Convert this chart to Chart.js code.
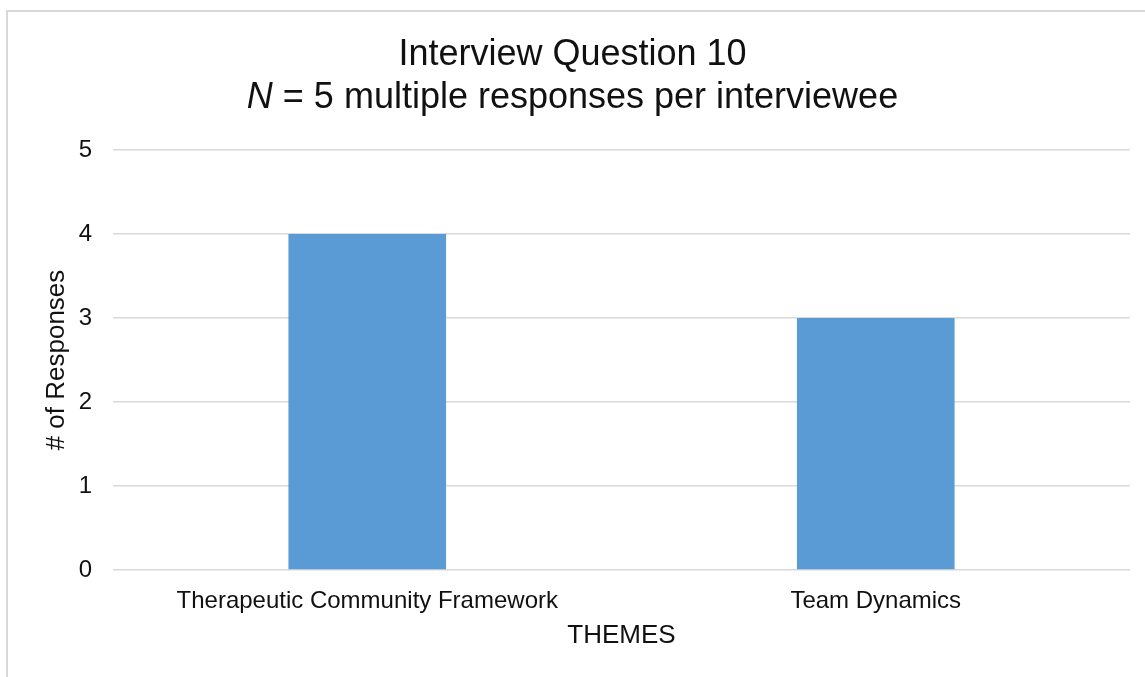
<!DOCTYPE html>
<html>
<head>
<meta charset="utf-8">
<script src="https://cdn.jsdelivr.net/npm/chart.js@4"></script>
<style>
  html, body { margin: 0; padding: 0; background: #fff; }
  #wrap { width: 1145px; height: 677px; position: relative; }
</style>
</head>
<body>
<div id="wrap"><canvas id="c" width="1145" height="677"></canvas></div>
<script>
// Interview question 10 themes and response counts
const categories = ['Therapeutic Community Framework', 'Team Dynamics'];
const responses = [4, 3];
const yTicks = [0, 1, 2, 3, 4, 5];
const titleLine1 = 'Interview Question 10';
const titleLine2Italic = 'N';
const titleLine2Rest = ' = 5 multiple responses per interviewee';
const xTitle = 'THEMES';
const yTitle = '# of Responses';

const FONT = '"Liberation Sans", Arial, sans-serif';
const GRID = '#d9d9d9';

// Frame around the chart and the two-line title with an italic N
const framePlugin = {
  id: 'frameAndTitle',
  beforeDraw(chart) {
    const ctx = chart.ctx;
    ctx.save();
    ctx.fillStyle = '#fff';
    ctx.fillRect(0, 0, chart.width, chart.height);
    ctx.strokeStyle = GRID;
    ctx.lineWidth = 2;
    ctx.strokeRect(7, 11, chart.width + 50, chart.height + 50);
    ctx.restore();
  },
  afterDraw(chart) {
    const ctx = chart.ctx;
    const cx = chart.width / 2;
    ctx.save();
    ctx.fillStyle = '#111';
    ctx.textBaseline = 'alphabetic';
    ctx.font = '36px ' + FONT;
    ctx.textAlign = 'center';
    ctx.fillText(titleLine1, cx, 65);

    const italicFont = 'italic 36px ' + FONT;
    const normalFont = '36px ' + FONT;
    ctx.font = italicFont;
    const wN = ctx.measureText(titleLine2Italic).width;
    ctx.font = normalFont;
    const wR = ctx.measureText(titleLine2Rest).width;
    const start = cx - (wN + wR) / 2;
    ctx.textAlign = 'left';
    ctx.font = italicFont;
    ctx.fillText(titleLine2Italic, start, 108);
    ctx.font = normalFont;
    ctx.fillText(titleLine2Rest, start + wN, 108);
    ctx.restore();
  }
};

new Chart(document.getElementById('c'), {
  type: 'bar',
  data: {
    labels: categories,
    datasets: [{
      data: responses,
      backgroundColor: '#5b9bd5',
      borderWidth: 0,
      categoryPercentage: 1,
      barPercentage: 0.31
    }]
  },
  options: {
    responsive: false,
    animation: false,
    devicePixelRatio: 1,
    layout: { padding: { top: 150, right: 15, left: 0, bottom: 0 } },
    plugins: {
      legend: { display: false },
      title: { display: false },
      tooltip: { enabled: false }
    },
    scales: {
      x: {
        grid: { display: false, drawTicks: false },
        border: { display: false },
        ticks: {
          color: '#111',
          font: { family: FONT, size: 24 },
          padding: 17,
          maxRotation: 0
        },
        title: {
          display: true,
          text: xTitle,
          color: '#111',
          font: { family: FONT, size: 26 },
          padding: { top: 0, bottom: 26 }
        },
        afterFit(scale) { scale.height = 107; }
      },
      y: {
        min: 0,
        max: 5,
        afterBuildTicks(scale) { scale.ticks = yTicks.map(v => ({ value: v })); },
        grid: { color: GRID, lineWidth: 1.5, drawTicks: false },
        border: { display: false },
        ticks: {
          color: '#111',
          font: { family: FONT, size: 24 },
          padding: 21
        },
        title: {
          display: true,
          text: yTitle,
          color: '#111',
          font: { family: FONT, size: 26 },
          padding: { top: 41, bottom: 0 }
        },
        afterFit(scale) { scale.width = 113; }
      }
    }
  },
  plugins: [framePlugin]
});
</script>
</body>
</html>
